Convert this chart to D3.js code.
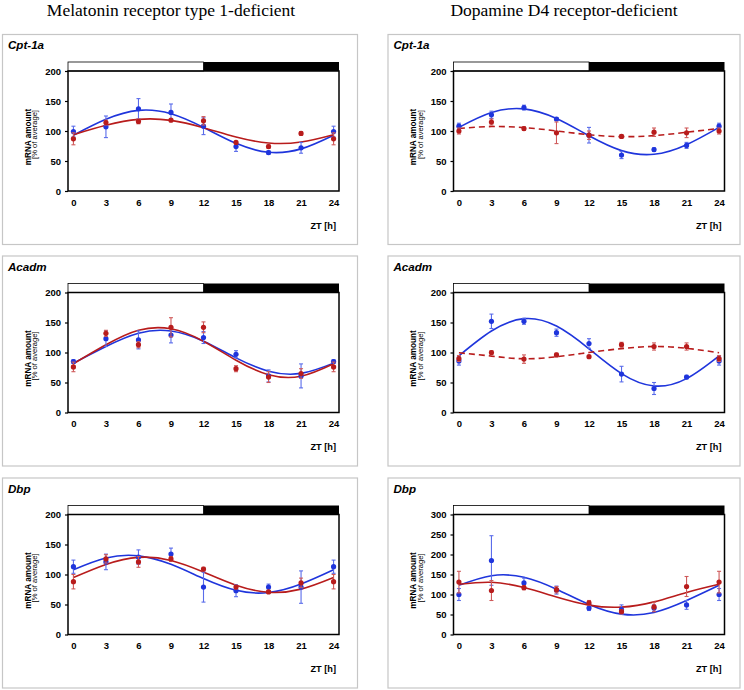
<!DOCTYPE html>
<html><head><meta charset="utf-8">
<script src="https://cdn.jsdelivr.net/npm/d3@7"></script>
<style>body{margin:0;background:#fff;} svg{display:block;}</style>
</head><body>
<svg id="chart" width="744" height="690"></svg>
<script>
// ---------- data ----------
const hours = [0, 3, 6, 9, 12, 15, 18, 21, 24];
const columnTitles = ["Melatonin receptor type 1-deficient", "Dopamine D4 receptor-deficient"];
const geneNames = ["Cpt-1a", "Acadm", "Dbp"];
const yTicks200 = [0, 50, 100, 150, 200];
const yTicks300 = [0, 50, 100, 150, 200, 250, 300];
const xAxisTitle = "ZT [h]";
const yAxisTitle = "mRNA amount";
const yAxisSubtitle = "[% of average]";

// Melatonin receptor type 1 — Cpt-1a
const melCptBlue = [99, 107, 137, 131, 108, 74, 64, 72, 99];
const melCptBlueErr = [9, 18, 17, 14, 14, 8, 3, 9, 9];
const melCptRed = [87, 114, 116, 118, 117, 81, 74, 96, 87];
const melCptRedErr = [10, 4, 4, 2, 7, 2, 3, 3, 10];
const melCptBlueFit = [93, 119.6, 134.4, 128.8, 106, 79.4, 64.6, 70.2, 93];
const melCptRedFit = [93.9, 109.5, 119.4, 117.7, 105.5, 89.9, 80, 81.7, 93.9];

// Dopamine D4 — Cpt-1a
const dopCptBlue = [108, 127, 139, 120, 93, 60, 69, 76, 108];
const dopCptBlueErr = [5, 6, 4, 2, 13, 6, 3, 5, 5];
const dopCptRed = [100, 115, 104, 97, 93, 91, 98, 97, 100];
const dopCptRedErr = [5, 5, 3, 18, 7, 3, 7, 8, 5];
const dopCptBlueFit = [106, 130.7, 136.9, 120.8, 92, 67.3, 61.2, 77.2, 106];
const dopCptRedFit = [104.2, 107.4, 105.7, 100.1, 93.8, 90.6, 92.3, 97.9, 104.2];

// Melatonin receptor type 1 — Acadm
const melAcaBlue = [85, 123, 121, 129, 125, 97, 61, 61, 85];
const melAcaBlueErr = [3, 13, 15, 13, 10, 6, 10, 20, 3];
const melAcaRed = [76, 132, 113, 142, 142, 73, 59, 65, 76];
const melAcaRedErr = [8, 5, 5, 16, 9, 5, 9, 8, 8];
const melAcaBlueFit = [82.3, 110, 132.1, 135.8, 118.8, 91, 68.9, 65.2, 82.3];
const melAcaRedFit = [81.2, 112.8, 137, 139.5, 118.8, 87.2, 63, 60.5, 81.2];

// Dopamine D4 — Acadm
const dopAcaBlue = [86, 152, 152, 133, 115, 64, 40, 59, 86];
const dopAcaBlueErr = [7, 12, 5, 6, 8, 13, 10, 3, 7];
const dopAcaRed = [90, 100, 89, 96, 93, 113, 110, 110, 90];
const dopAcaRedErr = [5, 3, 7, 3, 2, 4, 6, 6, 5];
const dopAcaBlueFit = [94.4, 135.8, 156.4, 144.1, 106.2, 64.8, 44.2, 56.5, 94.4];
const dopAcaRedFit = [99.5, 94, 89.5, 93, 100, 106.5, 110, 107, 99.5];

// Melatonin receptor type 1 — Dbp
const melDbpBlue = [113, 121, 129, 134, 79, 73, 79, 79, 113];
const melDbpBlueErr = [11, 13, 12, 10, 25, 10, 5, 27, 11];
const melDbpRed = [88, 126, 121, 126, 109, 79, 71, 86, 88];
const melDbpRedErr = [12, 7, 9, 4, 3, 3, 2, 8, 12];
const melDbpBlueFit = [107.8, 127.4, 131.1, 117, 93.2, 73.6, 69.9, 84.1, 107.8];
const melDbpRedFit = [94.9, 116.8, 128.6, 123.4, 104.1, 82.2, 70.4, 75.6, 94.9];

// Dopamine D4 — Dbp
const dopDbpBlue = [100, 185, 129, 111, 66, 62, 66, 74, 100];
const dopDbpBlueErr = [15, 62, 12, 10, 6, 12, 8, 11, 15];
const dopDbpRed = [131, 110, 117, 112, 79, 57, 69, 120, 131];
const dopDbpRedErr = [27, 25, 5, 8, 6, 5, 12, 25, 27];
const dopDbpBlueFit = [122.9, 147, 143, 113.2, 75.2, 51, 55, 84.8, 122.9];
const dopDbpRedFit = [125.5, 130.5, 117.4, 93.8, 73.5, 68.5, 81.6, 105.2, 125.5];

// ---------- panel table built from the arrays ----------
const panels = [
  {col: 0, row: 0, gene: geneNames[0], ticks: yTicks200, blue: melCptBlue, blueErr: melCptBlueErr, red: melCptRed, redErr: melCptRedErr, blueFit: melCptBlueFit, redFit: melCptRedFit, redDashed: false},
  {col: 1, row: 0, gene: geneNames[0], ticks: yTicks200, blue: dopCptBlue, blueErr: dopCptBlueErr, red: dopCptRed, redErr: dopCptRedErr, blueFit: dopCptBlueFit, redFit: dopCptRedFit, redDashed: true},
  {col: 0, row: 1, gene: geneNames[1], ticks: yTicks200, blue: melAcaBlue, blueErr: melAcaBlueErr, red: melAcaRed, redErr: melAcaRedErr, blueFit: melAcaBlueFit, redFit: melAcaRedFit, redDashed: false},
  {col: 1, row: 1, gene: geneNames[1], ticks: yTicks200, blue: dopAcaBlue, blueErr: dopAcaBlueErr, red: dopAcaRed, redErr: dopAcaRedErr, blueFit: dopAcaBlueFit, redFit: dopAcaRedFit, redDashed: true},
  {col: 0, row: 2, gene: geneNames[2], ticks: yTicks200, blue: melDbpBlue, blueErr: melDbpBlueErr, red: melDbpRed, redErr: melDbpRedErr, blueFit: melDbpBlueFit, redFit: melDbpRedFit, redDashed: false},
  {col: 1, row: 2, gene: geneNames[2], ticks: yTicks300, blue: dopDbpBlue, blueErr: dopDbpBlueErr, red: dopDbpRed, redErr: dopDbpRedErr, blueFit: dopDbpBlueFit, redFit: dopDbpRedFit, redDashed: false}
];

// ---------- layout ----------
const svg = d3.select("#chart");
const colX = [2, 387.5];
const colW = [355, 352];
const rowY = [34, 255.5, 477.5];
const panelH = 210;
const BLUE = "#1f35dc", RED = "#b81c1c";
const BLUE_ERR = "#5a6cea", RED_ERR = "#cf5a5a";
const SANS = "'Liberation Sans', Arial, sans-serif";

// column titles
columnTitles.forEach((t, i) => {
  svg.append("text")
    .attr("x", [171, 564][i]).attr("y", 15.8)
    .attr("text-anchor", "middle")
    .attr("font-family", "'Liberation Serif', 'Times New Roman', serif")
    .attr("font-size", 17.5)
    .attr("fill", "#000")
    .text(t);
});

panels.forEach(p => {
  const px = colX[p.col], py = rowY[p.row], pw = colW[p.col];
  const g = svg.append("g");

  g.append("rect")
    .attr("x", px + 0.5).attr("y", py + 0.5)
    .attr("width", pw).attr("height", panelH)
    .attr("fill", "none").attr("stroke", "#c6c6c6").attr("stroke-width", 1.2);

  g.append("text")
    .attr("x", px + 6).attr("y", py + 15)
    .attr("font-family", SANS).attr("font-weight", "bold").attr("font-style", "italic")
    .attr("font-size", 11.6)
    .text(p.gene);

  const x0 = px + 66, x1 = px + 337;
  const yTop = py + 37, yBot = py + 157;
  const x = d3.scaleLinear().domain([-0.5, 24.5]).range([x0, x1]);
  const y = d3.scaleLinear().domain([0, d3.max(p.ticks)]).range([yBot, yTop]);

  // light / dark bar
  g.append("rect").attr("x", x0).attr("y", yTop - 9).attr("width", x(12) - x0).attr("height", 9)
    .attr("fill", "#fff").attr("stroke", "#000").attr("stroke-width", 0.8);
  g.append("rect").attr("x", x(12)).attr("y", yTop - 9).attr("width", x1 - x(12)).attr("height", 9)
    .attr("fill", "#000");

  // frame
  g.append("rect").attr("x", x0).attr("y", yTop).attr("width", x1 - x0).attr("height", yBot - yTop)
    .attr("fill", "none").attr("stroke", "#000").attr("stroke-width", 1.5);

  // y axis
  const ya = g.append("g").attr("transform", `translate(${x0},0)`)
    .call(d3.axisLeft(y).tickValues(p.ticks).tickSize(3).tickPadding(4));
  ya.select(".domain").remove();
  ya.selectAll("line").attr("stroke-width", 1.2);
  ya.selectAll("text").attr("font-family", SANS).attr("font-weight", "bold").attr("font-size", 9.5);

  // x axis
  const xa = g.append("g").attr("transform", `translate(0,${yBot})`)
    .call(d3.axisBottom(x).tickValues(hours).tickSize(0).tickPadding(8));
  xa.select(".domain").remove();
  xa.selectAll("text").attr("font-family", SANS).attr("font-weight", "bold").attr("font-size", 9.5);

  g.append("text").attr("x", x1 - 3).attr("y", yBot + 37.5).attr("text-anchor", "end")
    .attr("font-family", SANS).attr("font-weight", "bold").attr("font-size", 9.2)
    .text(xAxisTitle);

  g.append("text")
    .attr("transform", `translate(${px + 28.5},${py + 103}) rotate(-90)`)
    .attr("text-anchor", "middle")
    .attr("font-family", SANS).attr("font-weight", "bold").attr("font-size", 8.2)
    .text(yAxisTitle);
  g.append("text")
    .attr("transform", `translate(${px + 35},${py + 100.5}) rotate(-90)`)
    .attr("text-anchor", "middle")
    .attr("font-family", SANS).attr("font-size", 7.6)
    .text(yAxisSubtitle);

  const line = d3.line().x((d, i) => x(hours[i])).y(d => y(d)).curve(d3.curveNatural);

  const series = [
    {m: p.blue, e: p.blueErr, fit: p.blueFit, c: BLUE, ce: BLUE_ERR, dash: null},
    {m: p.red, e: p.redErr, fit: p.redFit, c: RED, ce: RED_ERR, dash: p.redDashed ? "6,4" : null}
  ];

  series.forEach(s => {
    g.append("path").datum(s.fit).attr("d", line)
      .attr("fill", "none").attr("stroke", s.c).attr("stroke-width", 1.6)
      .attr("stroke-dasharray", s.dash);
  });

  series.forEach(s => {
    const eg = g.append("g").attr("stroke", s.ce).attr("stroke-width", 1.1);
    s.m.forEach((v, i) => {
      const cx = x(hours[i]);
      eg.append("line").attr("x1", cx).attr("x2", cx).attr("y1", y(v - s.e[i])).attr("y2", y(v + s.e[i]));
      eg.append("line").attr("x1", cx - 2).attr("x2", cx + 2).attr("y1", y(v - s.e[i])).attr("y2", y(v - s.e[i]));
      eg.append("line").attr("x1", cx - 2).attr("x2", cx + 2).attr("y1", y(v + s.e[i])).attr("y2", y(v + s.e[i]));
    });
    g.append("g").selectAll("circle").data(s.m).join("circle")
      .attr("cx", (d, i) => x(hours[i])).attr("cy", d => y(d)).attr("r", 2.6)
      .attr("fill", s.c);
  });
});
</script>
</body></html>
